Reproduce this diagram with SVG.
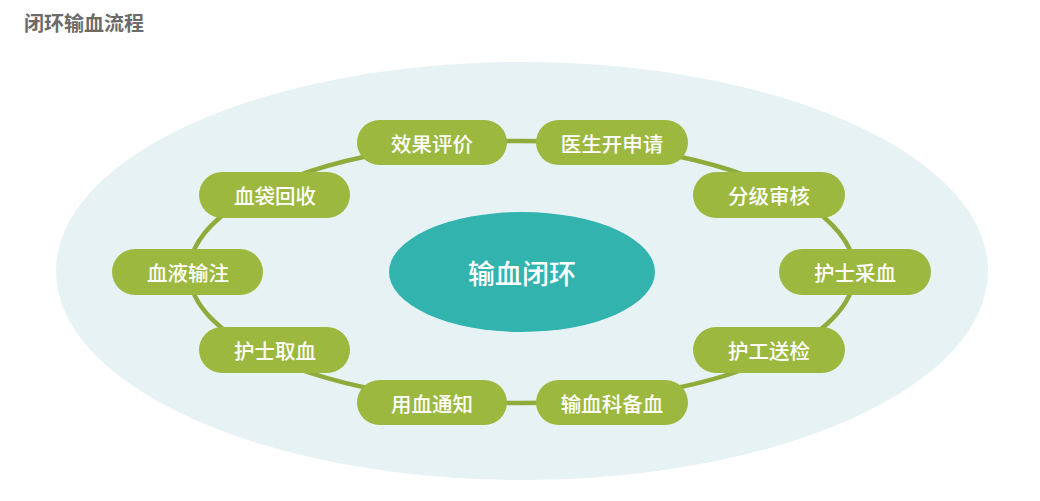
<svg xmlns="http://www.w3.org/2000/svg" width="1040" height="501" viewBox="0 0 1040 501">
<style>
.node rect{fill:#9db83f;}
.node text{fill:#ffffff;font-family:"Noto Sans CJK SC","Noto Sans",sans-serif;font-size:20.5px;font-weight:500;text-anchor:middle;dominant-baseline:central;}
.conn path{fill:none;stroke:#8fab3b;stroke-width:4.5;}
.title{fill:#6b6b6b;font-family:"Noto Sans CJK SC","Noto Sans",sans-serif;font-size:20px;font-weight:bold;}
</style>
<rect x="0" y="0" width="1040" height="501" fill="#ffffff"/>
<text class="title" x="24" y="31">闭环输血流程</text>
<ellipse id="backdrop" cx="522" cy="271" rx="466" ry="209" fill="#e7f2f4"/>
<g class="conn" id="connectors">
<path d="M432 145.9 A334 132 0 0 1 612 145.9"/>
<path d="M612 145.9 A334 132 0 0 1 769 184.5"/>
<path d="M769 184.5 A334 132 0 0 1 855 272"/>
<path d="M855 272 A334 132 0 0 1 769 359.5"/>
<path d="M769 359.5 A334 132 0 0 1 612 398.1"/>
<path d="M612 398.1 A334 132 0 0 1 432 398.1"/>
<path d="M432 398.1 A334 132 0 0 1 275 359.5"/>
<path d="M275 359.5 A334 132 0 0 1 189 272"/>
<path d="M189 272 A334 132 0 0 1 275 184.5"/>
<path d="M275 184.5 A334 132 0 0 1 432 145.9"/>
</g>
<g id="center">
<ellipse cx="522" cy="272" rx="133" ry="60" fill="#33b3ae"/>
<text x="522" y="272" fill="#ffffff" font-family="Noto Sans CJK SC, Noto Sans, sans-serif" font-size="27" font-weight="500" text-anchor="middle" dominant-baseline="central">输血闭环</text>
</g>
<g class="node" id="n1"><rect x="357" y="120" width="150" height="45" rx="22.5"/><text x="432" y="142.5">效果评价</text></g>
<g class="node" id="n2"><rect x="536" y="120" width="152" height="45" rx="22.5"/><text x="612" y="142.5">医生开申请</text></g>
<g class="node" id="n3"><rect x="693" y="172" width="152" height="46" rx="23"/><text x="769" y="195">分级审核</text></g>
<g class="node" id="n4"><rect x="779" y="249" width="152" height="46" rx="23"/><text x="855" y="272">护士采血</text></g>
<g class="node" id="n5"><rect x="693" y="327" width="152" height="46" rx="23"/><text x="769" y="350">护工送检</text></g>
<g class="node" id="n6"><rect x="536" y="380" width="152" height="45" rx="22.5"/><text x="612" y="402.5">输血科备血</text></g>
<g class="node" id="n7"><rect x="357" y="380" width="150" height="45" rx="22.5"/><text x="432" y="402.5">用血通知</text></g>
<g class="node" id="n8"><rect x="199" y="327" width="151" height="46" rx="23"/><text x="275" y="350">护士取血</text></g>
<g class="node" id="n9"><rect x="112" y="249" width="151" height="46" rx="23"/><text x="188" y="272">血液输注</text></g>
<g class="node" id="n10"><rect x="199" y="172" width="151" height="46" rx="23"/><text x="275" y="195">血袋回收</text></g>
</svg>
